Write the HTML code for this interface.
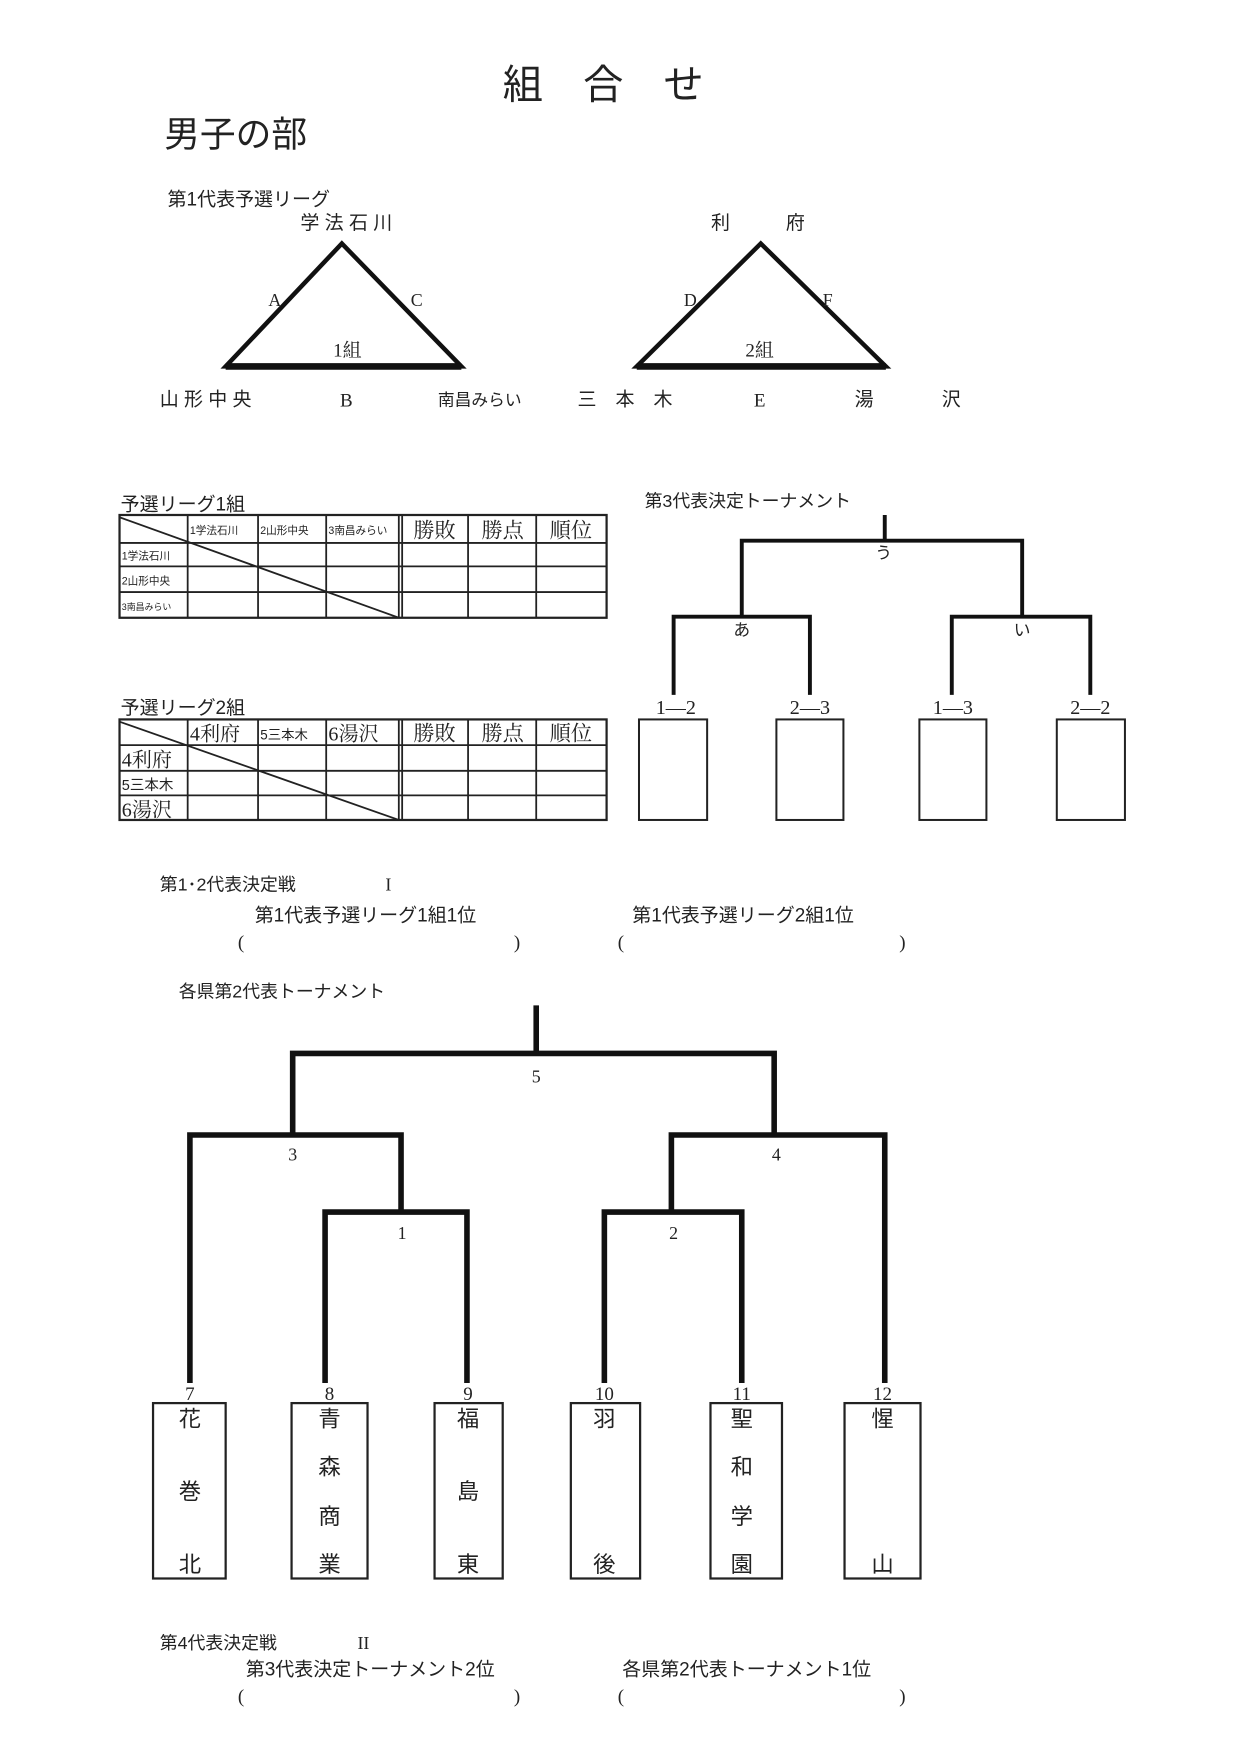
<!DOCTYPE html>
<html><head><meta charset="utf-8"><style>
html,body{margin:0;padding:0;background:#fff;}
svg{display:block;}
text{font-family:"Liberation Serif","Noto Serif CJK SC","Noto Sans CJK JP",serif;fill:#222;}
.s{font-family:"Liberation Sans","Noto Sans CJK JP",sans-serif;}
</style></head><body>
<svg width="1240" height="1755" viewBox="0 0 1110 1571" preserveAspectRatio="none" xmlns="http://www.w3.org/2000/svg">
<g stroke="#111" fill="none" stroke-linejoin="miter">
<polygon points="306,218 202,328 413,328" stroke-width="4"/>
<line x1="202" y1="328" x2="413" y2="328" stroke-width="6"/>
<polygon points="681,218 570,328 793,328" stroke-width="4"/>
<line x1="570" y1="328" x2="793" y2="328" stroke-width="6"/>
</g>
<text x="540" y="88" font-size="36" text-anchor="middle" class="s">組　合　せ</text>
<text x="147" y="131" font-size="32" class="s">男子の部</text>
<text x="150" y="184" font-size="17" class="s">第1代表予選リーグ</text>
<text x="310" y="205" font-size="17" text-anchor="middle" class="s">学 法 石 川</text>
<text x="246" y="274" font-size="16" text-anchor="middle">A</text>
<text x="373" y="274" font-size="16" text-anchor="middle">C</text>
<text x="311" y="319" font-size="17" text-anchor="middle">1組</text>
<text x="143" y="363" font-size="17" class="s">山 形 中 央</text>
<text x="310" y="364" font-size="17" text-anchor="middle">B</text>
<text x="392" y="363" font-size="15" class="s">南昌みらい</text>
<text x="645" y="205" font-size="17" text-anchor="middle" class="s">利</text>
<text x="712" y="205" font-size="17" text-anchor="middle" class="s">府</text>
<text x="618" y="274" font-size="16" text-anchor="middle">D</text>
<text x="741" y="274" font-size="16" text-anchor="middle">F</text>
<text x="680" y="319" font-size="17" text-anchor="middle">2組</text>
<text x="517" y="363" font-size="17" class="s">三　本　木</text>
<text x="680" y="364" font-size="17" text-anchor="middle">E</text>
<text x="765" y="363" font-size="17" class="s">湯</text>
<text x="843" y="363" font-size="17" class="s">沢</text>

<text x="108" y="457" font-size="17" class="s">予選リーグ1組</text>
<g stroke="#222" stroke-width="1.6" fill="none">
<rect x="107" y="461" width="436" height="92" stroke-width="2"/>
<line x1="107" y1="486" x2="543" y2="486"/><line x1="107" y1="507" x2="543" y2="507"/><line x1="107" y1="530" x2="543" y2="530"/>
<line x1="168" y1="461" x2="168" y2="553"/><line x1="231" y1="461" x2="231" y2="553"/><line x1="292" y1="461" x2="292" y2="553"/>
<line x1="357" y1="461" x2="357" y2="553"/><line x1="360" y1="461" x2="360" y2="553"/>
<line x1="419" y1="461" x2="419" y2="553"/><line x1="480" y1="461" x2="480" y2="553"/>
<line x1="107" y1="463" x2="357" y2="553"/>
</g>
<g font-size="9.5" class="s">
<text x="170" y="478" class="s">1学法石川</text><text x="233" y="478" class="s">2山形中央</text><text x="294" y="478" class="s">3南昌みらい</text>
<text x="109" y="501" class="s">1学法石川</text><text x="109" y="523" class="s">2山形中央</text><text x="109" y="546" font-size="8" class="s">3南昌みらい</text>
</g>
<g font-size="19" text-anchor="middle"><text x="389" y="481">勝敗</text><text x="450" y="481">勝点</text><text x="511" y="481">順位</text></g>

<text x="108" y="639" font-size="17" class="s">予選リーグ2組</text>
<g stroke="#222" stroke-width="1.6" fill="none">
<rect x="107" y="644" width="436" height="90" stroke-width="2"/>
<line x1="107" y1="667" x2="543" y2="667"/><line x1="107" y1="690" x2="543" y2="690"/><line x1="107" y1="712" x2="543" y2="712"/>
<line x1="168" y1="644" x2="168" y2="734"/><line x1="231" y1="644" x2="231" y2="734"/><line x1="292" y1="644" x2="292" y2="734"/>
<line x1="357" y1="644" x2="357" y2="734"/><line x1="360" y1="644" x2="360" y2="734"/>
<line x1="419" y1="644" x2="419" y2="734"/><line x1="480" y1="644" x2="480" y2="734"/>
<line x1="107" y1="646" x2="357" y2="734"/>
</g>
<text x="170" y="663" font-size="18">4利府</text><text x="233" y="662" font-size="12" class="s">5三本木</text><text x="294" y="663" font-size="18">6湯沢</text>
<text x="109" y="686" font-size="18">4利府</text><text x="109" y="707" font-size="13" class="s">5三本木</text><text x="109" y="731" font-size="18">6湯沢</text>
<g font-size="19" text-anchor="middle"><text x="389" y="663">勝敗</text><text x="450" y="663">勝点</text><text x="511" y="663">順位</text></g>

<text x="577" y="454" font-size="16" class="s">第3代表決定トーナメント</text>
<g stroke="#111" stroke-width="3.5" fill="none">
<path d="M792 461V484M664 552V484H915V552M603 622V552H725V622M852 622V552H976V622"/>
</g>
<g stroke="#222" stroke-width="1.8" fill="none">
<rect x="572" y="644" width="61" height="90"/><rect x="695" y="644" width="60" height="90"/>
<rect x="823" y="644" width="60" height="90"/><rect x="946" y="644" width="61" height="90"/>
</g>
<g font-size="15" text-anchor="middle">
<text x="791" y="500" class="s">う</text><text x="664" y="569" class="s">あ</text><text x="915" y="569" class="s">い</text>
</g>
<g font-size="18" text-anchor="middle">
<text x="605" y="639">1―2</text><text x="725" y="639">2―3</text><text x="853" y="639">1―3</text><text x="976" y="639">2―2</text>
</g>

<text x="143" y="797" font-size="16" class="s">第1･2代表決定戦</text><text x="345" y="797" font-size="16">I</text>
<text x="228" y="825" font-size="17" class="s">第1代表予選リーグ1組1位</text>
<text x="566" y="825" font-size="17" class="s">第1代表予選リーグ2組1位</text>
<g font-size="17"><text x="213" y="849">(</text><text x="460" y="849">)</text><text x="553" y="849">(</text><text x="805" y="849">)</text></g>

<text x="160" y="893" font-size="16" class="s">各県第2代表トーナメント</text>
<g stroke="#111" stroke-width="5" fill="none">
<path d="M480 900V943M262 1016V943H693V1016M170 1238V1016H359V1085M601 1085V1016H792V1238M291 1238V1085H418V1238M541 1238V1085H664V1238"/>
</g>
<g font-size="16" text-anchor="middle">
<text x="480" y="969">5</text><text x="262" y="1039">3</text><text x="695" y="1039">4</text><text x="360" y="1109">1</text><text x="603" y="1109">2</text>
</g>
<g font-size="17" text-anchor="middle">
<text x="170" y="1253">7</text><text x="295" y="1253">8</text><text x="419" y="1253">9</text><text x="541" y="1253">10</text><text x="664" y="1253">11</text><text x="790" y="1253">12</text>
</g>
<g stroke="#222" stroke-width="2" fill="none">
<rect x="137" y="1256" width="65" height="157"/><rect x="261" y="1256" width="68" height="157"/>
<rect x="389" y="1256" width="61" height="157"/><rect x="511" y="1256" width="62" height="157"/>
<rect x="636" y="1256" width="64" height="157"/><rect x="756" y="1256" width="68" height="157"/>
</g>
<g font-size="20" text-anchor="middle" class="s">
<text x="170" y="1277" class="s">花</text><text x="170" y="1342" class="s">巻</text><text x="170" y="1407" class="s">北</text>
<text x="295" y="1277" class="s">青</text><text x="295" y="1320" class="s">森</text><text x="295" y="1364" class="s">商</text><text x="295" y="1407" class="s">業</text>
<text x="419" y="1277" class="s">福</text><text x="419" y="1342" class="s">島</text><text x="419" y="1407" class="s">東</text>
<text x="541" y="1277" class="s">羽</text><text x="541" y="1407" class="s">後</text>
<text x="664" y="1277" class="s">聖</text><text x="664" y="1320" class="s">和</text><text x="664" y="1364" class="s">学</text><text x="664" y="1407" class="s">園</text>
<text x="790" y="1277" class="s">惺</text><text x="790" y="1407" class="s">山</text>
</g>

<text x="143" y="1476" font-size="16" class="s">第4代表決定戦</text><text x="320" y="1476" font-size="16">II</text>
<text x="220" y="1500" font-size="17" class="s">第3代表決定トーナメント2位</text>
<text x="557" y="1500" font-size="17" class="s">各県第2代表トーナメント1位</text>
<g font-size="17"><text x="213" y="1524">(</text><text x="460" y="1524">)</text><text x="553" y="1524">(</text><text x="805" y="1524">)</text></g>
</svg>
</body></html>
